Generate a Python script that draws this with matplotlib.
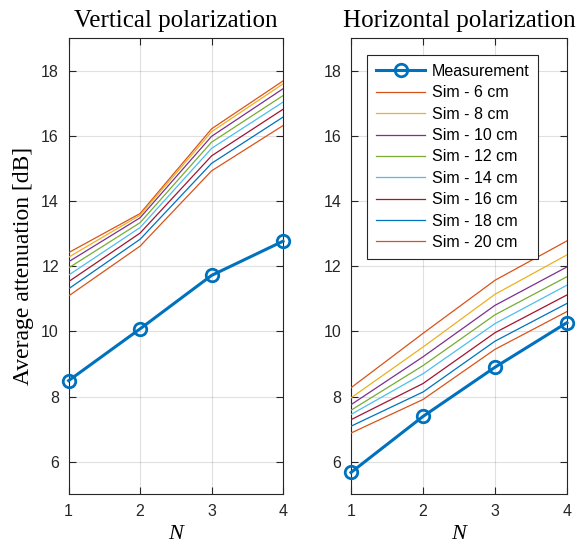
import matplotlib
matplotlib.use("Agg")
import matplotlib.pyplot as plt

N = [1, 2, 3, 4]
sim_labels = ["Sim - 6 cm", "Sim - 8 cm", "Sim - 10 cm", "Sim - 12 cm",
              "Sim - 14 cm", "Sim - 16 cm", "Sim - 18 cm", "Sim - 20 cm"]

vert_meas = [8.49, 10.08, 11.72, 12.77]
vert_sim = [
    [12.42, 13.62, 16.22, 17.69],
    [12.28, 13.57, 16.13, 17.60],
    [12.14, 13.49, 15.99, 17.45],
    [11.95, 13.34, 15.81, 17.24],
    [11.73, 13.19, 15.62, 17.04],
    [11.53, 13.02, 15.39, 16.82],
    [11.31, 12.83, 15.16, 16.58],
    [11.09, 12.62, 14.93, 16.32],
]

horiz_meas = [5.67, 7.39, 8.90, 10.27]
horiz_sim = [
    [8.27, 9.94, 11.57, 12.78],
    [7.96, 9.52, 11.14, 12.35],
    [7.75, 9.22, 10.80, 11.98],
    [7.58, 8.95, 10.51, 11.68],
    [7.45, 8.70, 10.24, 11.42],
    [7.29, 8.40, 9.96, 11.12],
    [7.09, 8.14, 9.70, 10.86],
    [6.88, 7.91, 9.45, 10.61],
]

yticks = [6, 8, 10, 12, 14, 16, 18]

meas_color = "#0072BD"
sim_colors = ["#D95319", "#EDB120", "#7E2F8E", "#77AC30",
              "#4DBEEE", "#A2142F", "#0072BD", "#D95319"]

fig = plt.figure(figsize=(5.77, 5.5), dpi=100)
ax1 = fig.add_axes([0.119, 0.1013, 0.3715, 0.8291])
ax2 = fig.add_axes([0.6083, 0.1013, 0.3743, 0.8291])

serif = "Liberation Serif"
sans = "Liberation Sans"
dark = "#262626"

for ax, meas, sims, title in [(ax1, vert_meas, vert_sim, "Vertical polarization"),
                              (ax2, horiz_meas, horiz_sim, "Horizontal polarization")]:
    ax.plot(N, meas, color=meas_color, lw=2.2, marker="o", ms=9,
            mfc="none", mew=2.0, label="Measurement", clip_on=False, zorder=5)
    for vals, c, lab in zip(sims, sim_colors, sim_labels):
        ax.plot(N, vals, color=c, lw=0.9, label=lab, zorder=3)
    ax.set_xlim(1, 4)
    ax.set_ylim(5, 19)
    ax.set_xticks(N)
    ax.set_yticks(yticks)
    ax.grid(True, color="#000000", alpha=0.12, lw=0.8)
    ax.set_axisbelow(True)
    ax.tick_params(direction="in", top=True, right=True, length=5,
                   width=0.8, colors=dark, labelsize=11.5, pad=7)
    for lbl in ax.get_xticklabels() + ax.get_yticklabels():
        lbl.set_fontfamily(sans)
    for s in ax.spines.values():
        s.set_color(dark)
        s.set_linewidth(0.8)
    ax.set_title(title, fontfamily=serif, fontsize=18, pad=8)
    ax.set_xlabel("N", fontfamily=serif, fontstyle="italic", fontsize=16, labelpad=4)

ax1.set_ylabel("Average attenuation [dB]", fontfamily=serif, fontsize=17, labelpad=5)

leg = ax2.legend(loc="upper left", bbox_to_anchor=(0.074, 0.963), borderaxespad=0,
                 prop={"family": sans, "size": 11.5}, handlelength=3.1,
                 handletextpad=0.4, labelspacing=0.40, borderpad=0.55,
                 fancybox=False, framealpha=1, edgecolor=dark)
leg.get_frame().set_linewidth(0.8)

fig.savefig("out.png", dpi=100)
